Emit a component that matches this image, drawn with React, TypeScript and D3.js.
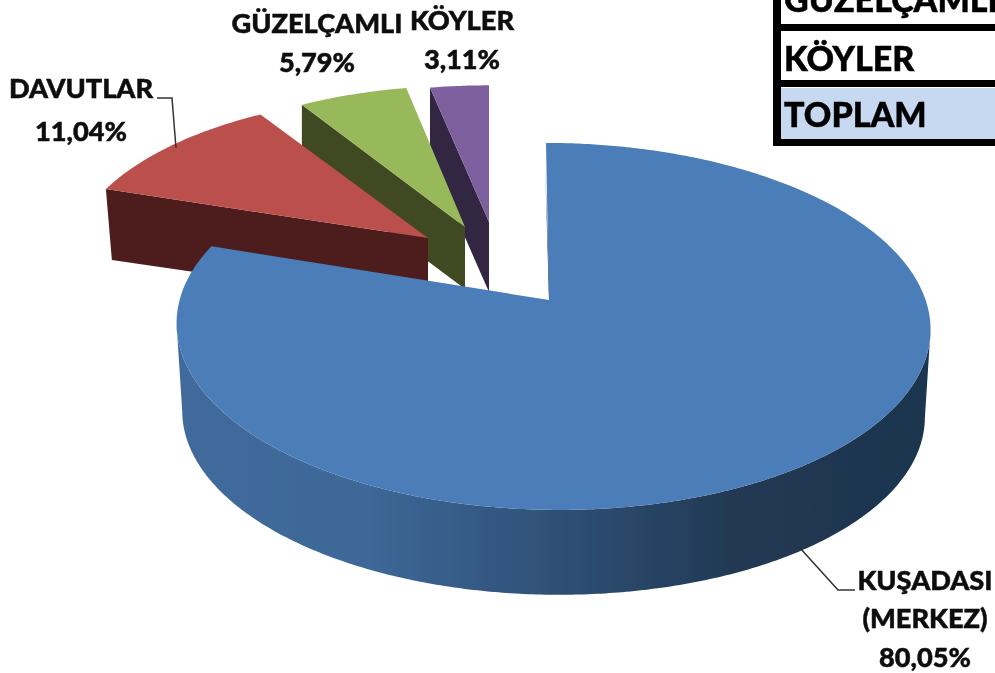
import React from "react";
import * as d3 from "d3";

const categories = ["KUŞADASI (MERKEZ)", "DAVUTLAR", "GÜZELÇAMLI", "KÖYLER"];
const shares = [80.05, 11.04, 5.79, 3.11];
const shareLabels = ["80,05%", "11,04%", "5,79%", "3,11%"];
const topColors = ["#4c7db9", "#bb4f4c", "#98b95a", "#7e609f"];
const cutColors = ["#1f3550", "#4d1e1d", "#3f4a20", "#302742"];
const apexX = [549, 428, 465, 489];
const apexY = [300, 238, 227, 222];
const sliceScaleX = [1, 0.95, 0.925, 0.93];
const sliceScaleY = [1, 0.91, 0.9, 0.87];
const sliceDepth = [88, 68, 62, 70];
const tableRows = ["GÜZELÇAMLI", "KÖYLER", "TOPLAM"];
const tableBaselines = [12, 71, 127];
const labelFont = "Lato, 'Open Sans', sans-serif";

const K = -0.144;
const RX = 373;
const RY = 179.7;

type Pt = [number, number];

function project(angle: number, ax: number, ay: number, sx: number, sy: number, shear: number): Pt {
  const u = Math.sin(angle);
  const v = -Math.cos(angle);
  const w = 1 + K * v;
  return [ax + (RX * sx * u) / w + shear * (3.6 + 6.6 * v), ay + (RY * sy * v) / w];
}

function arcPoints(a0: number, a1: number, ax: number, ay: number, sx: number, sy: number, shear: number): Pt[] {
  const n = Math.max(2, Math.ceil(Math.abs(a1 - a0) / 0.01));
  return d3.range(n + 1).map((i) => project(a0 + ((a1 - a0) * i) / n, ax, ay, sx, sy, shear));
}

const line = d3.line();
const closed = (pts: Pt[]) => (line(pts) as string) + "Z";

export default function App() {
  const arcs = d3.pie<number>().sort(null)(shares);
  const order = [3, 2, 1, 0];

  const label = (txt: string, x: number, y: number) => (
    <text key={txt} x={x} y={y} textAnchor="middle" fontFamily={labelFont} fontWeight={900} fontSize={27.2} fill="#111" stroke="#111" strokeWidth={0.5}>
      {txt}
    </text>
  );

  return (
    <svg width={995} height={673} style={{ position: "absolute", left: 0, top: 0, background: "#fff" }} viewBox="0 0 995 673">
      <defs>
        <linearGradient id="side" gradientUnits="userSpaceOnUse" x1={178} x2={930} y1={0} y2={0}>
          <stop offset="0" stopColor="#3f6b9c" />
          <stop offset="0.25" stopColor="#3e6898" />
          <stop offset="0.5" stopColor="#2f5077" />
          <stop offset="0.75" stopColor="#213852" />
          <stop offset="1" stopColor="#1e3450" />
        </linearGradient>
        <filter id="soft" x="-5%" y="-5%" width="110%" height="110%">
          <feGaussianBlur stdDeviation="0.5" />
        </filter>
      </defs>

      <g filter="url(#soft)">
        {order.map((i) => {
          const a = arcs[i];
          const [ax, ay, sx, sy, d] = [apexX[i], apexY[i], sliceScaleX[i], sliceScaleY[i], sliceDepth[i]];
          const shear = i === 0 ? 1 : 0;
          const top = arcPoints(a.startAngle, a.endAngle, ax, ay, sx, sy, shear);
          if (i === 0) {
            const lo = arcPoints(a.startAngle, a.endAngle, ax, ay + d, sx * 0.985, sy * 0.985, shear);
            const xs = top.map((p) => p[0]);
            const right = d3.maxIndex(xs);
            const left = d3.minIndex(xs);
            const visTop = top.slice(right, left + 1);
            const visLo = lo.slice(right, left + 1).reverse();
            const p0 = top[0];
            return (
              <g key={i}>
                <path d={closed([...visTop, ...visLo])} fill="url(#side)" />
                <path d={closed([[ax, ay], [ax + 1, ay + 3], [p0[0] - 0.8, p0[1] + 24]])} fill={cutColors[i]} />
                <path d={closed([[ax, ay], ...top])} fill={topColors[i]} />
              </g>
            );
          }
          const outer = top[0];
          const cut: Pt[] = [
            [ax, ay],
            outer,
            [outer[0] + (i === 1 ? 6 : 0), outer[1] + d + (i === 1 ? 3 : 0)],
            [ax, ay + d],
          ];
          return (
            <g key={i}>
              <path d={closed(cut)} fill={cutColors[i]} />
              <path d={closed([[ax, ay], ...top])} fill={topColors[i]} />
            </g>
          );
        })}
      </g>

      <polyline points="157,98 172,98 176,148" fill="none" stroke="#333" strokeWidth={1.5} />
      <polyline points="800,548 838,590 855,590" fill="none" stroke="#333" strokeWidth={1.5} />

      <g filter="url(#soft)">
        {label(categories[2], 317, 33)}
        {label(shareLabels[2], 317, 72)}
        {label(categories[3], 462, 30)}
        {label(shareLabels[3], 462, 69)}
        {label(categories[1], 81, 98)}
        {label(shareLabels[1], 81, 141)}
        {label("KUŞADASI", 925, 590)}
        {label("(MERKEZ)", 925, 628)}
        {label(shareLabels[0], 925, 667)}

        <rect x={777} y={88} width={218} height={52} fill="#c6d9f1" />
        <rect x={773} y={0} width={8} height={146} fill="#000" />
        <rect x={773} y={24} width={222} height={7} fill="#000" />
        <rect x={773} y={80} width={222} height={7} fill="#000" />
        <rect x={773} y={139} width={222} height={7} fill="#000" />
        {tableRows.map((t, i) => (
          <text key={t} x={784} y={tableBaselines[i]} fontFamily={labelFont} fontWeight={900} fontSize={34} fill="#000" stroke="#000" strokeWidth={0.5}>
            {t}
          </text>
        ))}
      </g>
    </svg>
  );
}
